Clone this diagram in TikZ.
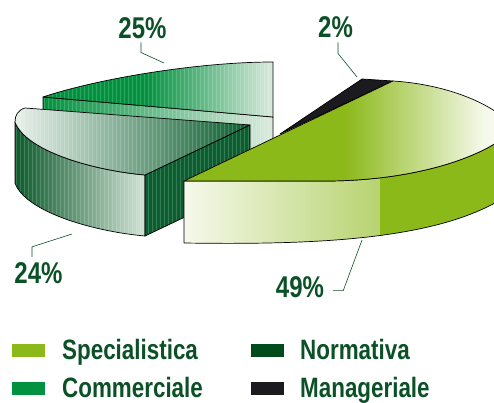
\documentclass[tikz,border=0pt]{standalone}
\usepackage{fontspec}
\setmainfont{Liberation Sans}[FakeStretch=0.8]
\definecolor{specC}{HTML}{8CB91A}
\definecolor{specL}{HTML}{F6F9EC}
\definecolor{commC}{HTML}{00923F}
\definecolor{commL}{HTML}{DDEBDF}
\definecolor{normC}{HTML}{004B1E}
\definecolor{normD}{HTML}{0B5A2C}
\definecolor{normL}{HTML}{D2E3D5}
\definecolor{normT}{HTML}{0A5E2F}
\definecolor{manaC}{HTML}{1B1A1F}
\definecolor{txtC}{HTML}{0B5026}
\tikzset{face/.style={draw=black, line width=0.7pt, line join=round},
  stripe/.style={white, opacity=0.18, line width=0.5pt},
  leader/.style={draw=txtC, line width=0.6pt},
  pctlabel/.style={text=txtC, font=\fontsize{30}{30}\selectfont\bfseries, inner sep=0pt, anchor=base},
  legbox/.style={minimum width=33pt, minimum height=13pt, inner sep=0pt},
  legtext/.style={text=txtC, font=\fontsize{28}{28}\selectfont\bfseries, inner sep=0pt, anchor=base west}}
\newcommand\facestripes{\foreach \sx in {0,4,...,496} \draw[stripe] (\sx,0) -- (\sx,403);}

\begin{document}
\begin{tikzpicture}[x=1pt, y=-1pt]
  \useasboundingbox (0,0) rectangle (494,403);
  \clip (0,0) rectangle (494,403);
  % Commerciale
  \path[face, path picture={\shade[left color=commC, right color=commL] (43,90) rectangle (273,180); \facestripes}]
    (43,97) -- (273,117) -- (273,178) -- (43,158) -- cycle;
  \path[face, path picture={\fill[commC] (40,55) rectangle (145,120);
      \shade[left color=commC, right color=commL] (145,55) rectangle (274,120); \facestripes}]
    (273,117) -- (43,97) .. controls (100,78) and (200,62) .. (273,62) -- cycle;
  % Normativa
  \path[face, path picture={\shade[left color=normD, right color=normL] (15,115) rectangle (145,240); \facestripes}]
    (15,122) .. controls (25,150) and (90,170) .. (145,175) -- (145,236)
    .. controls (90,231) and (25,211) .. (15,183) -- cycle;
  \path[face, fill=normT, path picture={\facestripes}]
    (145,175) -- (250,125) -- (250,186) -- (145,236) -- cycle;
  \path[face, path picture={\shade[left color=normL!50!white, right color=normT] (15,100) rectangle (250,180); \facestripes}]
    (250,125) -- (25,108) .. controls (18,110) and (15,115) .. (15,122)
    .. controls (25,150) and (90,170) .. (145,175) -- cycle;
  % Manageriale
  \path[face, fill=manaC] (280,134) -- (362,79) -- (393,81) -- cycle;
  % Specialistica
  \path[face, path picture={\shade[left color=specL, right color=specC] (184,175) rectangle (380,250);
      \fill[specC] (380,110) rectangle (520,250);}]
    (184,181) -- (330,181) .. controls (420,180) and (490,155) .. (515,128) -- (515,190)
    .. controls (450,240) and (320,245) .. (184,243) -- cycle;
  \path[face, path picture={\fill[specC] (180,70) rectangle (345,190);
      \shade[left color=specC, right color=specL] (345,70) rectangle (485,190);
      \fill[specL] (485,70) rectangle (520,190);}]
    (184,181) -- (393,81) .. controls (440,84) and (490,100) .. (515,128)
    .. controls (490,155) and (420,180) .. (330,181) -- cycle;
  % labels
  \coordinate (t25) at (164,63);
  \coordinate (t2) at (357,77);
  \coordinate (t24) at (72,234);
  \coordinate (t49) at (362,240);
  \node[pctlabel] (p25) at (142.5,39) {25\%};
  \node[pctlabel] (p2) at (335.5,38) {2\%};
  \node[pctlabel] (p24) at (38.5,283) {24\%};
  \node[pctlabel] (p49) at (300,297) {49\%};
  \draw[leader] ([xshift=-1.5pt,yshift=-3pt]p25.south) -- ++(0,10) -- (t25);
  \draw[leader] ([xshift=2.5pt,yshift=-4pt]p2.south) -- ++(0,11) -- (t2);
  \draw[leader] ([xshift=-6.5pt,yshift=5pt]p24.north) -- ++(0,-10) -- (t24);
  \draw[leader] ([xshift=9pt,yshift=-4pt]p49.east) -- ++(10,0) -- (t49);
  % legend
  \node[legbox, fill=specC] (bspec) at (28.5,350.5) {};
  \node[legtext] (lspec) at (62,359) {Specialistica};
  \node[legbox, fill=commC] (bcomm) at (28.5,388.5) {};
  \node[legtext] (lcomm) at (62,397.5) {Commerciale};
  \node[legbox, fill=normC] (bnorm) at (267.5,350.5) {};
  \node[legtext] (lnorm) at (300,359) {Normativa};
  \node[legbox, fill=manaC] (bmana) at (267.5,388.5) {};
  \node[legtext] (lmana) at (300,397.5) {Manageriale};
\end{tikzpicture}
\end{document}
